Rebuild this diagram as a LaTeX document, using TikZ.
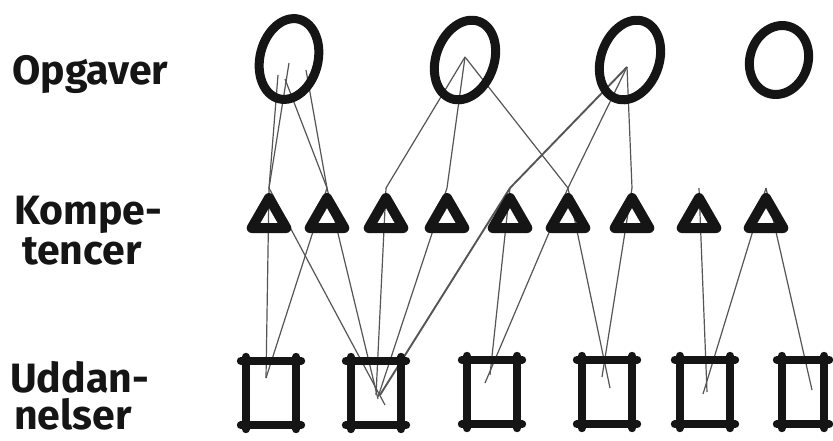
\documentclass[tikz,border=0pt]{standalone}
\usepackage{fontspec}
\setmainfont{Fira Sans}
\usetikzlibrary{shapes.geometric,calc,backgrounds}
\definecolor{ink}{HTML}{151515}
\definecolor{linkgray}{HTML}{555555}
\begin{document}
\begin{tikzpicture}[x=1pt,y=-1pt,
  opg/.style={draw=ink, ellipse, line width=9pt, minimum width=58pt, minimum height=82pt, inner sep=0pt},
  komp/.style={draw=ink, regular polygon, regular polygon sides=3, line width=10pt, line join=round, minimum size=40pt, inner sep=0pt},
  udd/.style={minimum width=50pt, minimum height=64pt, inner sep=0pt},
  sqside/.style={draw=ink, line width=8pt, line cap=round},
  link/.style={draw=linkgray, line width=1.2pt},
  linkthick/.style={draw=linkgray, line width=1.9pt},
  lbl/.style={font=\fontsize{41}{41}\selectfont\bfseries, text=ink, inner sep=0pt, anchor=base west}]
\useasboundingbox (0,0) rectangle (833,440);

% labels
\node[lbl] (lblO)  at (12,84)  {Opgaver};
\node[lbl] (lblK1) at (14,224) {Kompe-};
\node[lbl] (lblK2) at (22,264) {tencer};
\node[lbl] (lblU1) at (10,392) {Uddan-};
\node[lbl] (lblU2) at (14,429) {nelser};

% Opgaver
\node[opg, rotate=-14] (C1) at (289,59) {};
\node[opg, rotate=-20] (C2) at (465,60) {};
\node[opg, rotate=-20] (C3) at (630,60) {};
\node[opg, rotate=-18, minimum width=58pt, minimum height=70pt] (C4) at (779,60) {};

% Kompetencer
\foreach \n/\x in {1/269,2/327,3/386,4/447,5/510,6/568,7/632,8/699,9/766}
  \node[komp] (T\n) at (\x,218) {};

% Uddannelser
\node[udd] (S1) at (271,393) {};
\node[udd] (S2) at (376,393) {};
\node[udd] (S3) at (492,392) {};
\node[udd] (S4) at (607,392) {};
\node[udd] (S5) at (705,392) {};
\node[udd, minimum width=42pt] (S6) at (803,392) {};
\foreach \s in {S1,S2,S3,S4,S5,S6}{
  \draw[sqside] ($(\s.north west)+(-5,0)$) -- ($(\s.north east)+(5,0)$);
  \draw[sqside] ($(\s.south west)+(-5,0)$) -- ($(\s.south east)+(5,0)$);
  \draw[sqside] ($(\s.north west)+(0,-4)$) -- ($(\s.south west)+(0,4)$);
  \draw[sqside] ($(\s.north east)+(0,-4)$) -- ($(\s.south east)+(0,4)$);
}

\begin{scope}[on background layer]
  \fill[white] (0,0) rectangle (833,440);
  % Opgaver -> Kompetencer
  \draw[link] ($(C1.center)+(-11,16)$) -- (T1.corner 1);
  \draw[link] ($(C1.center)+(0,4)$) -- (T1.corner 1);
  \draw[link] ($(C1.center)+(-4,20)$) -- (T2.corner 1);
  \draw[link] ($(C1.center)+(17,11)$) -- (T2.corner 1);
  \draw[link] ($(C2.center)+(0,-3)$) -- (T3.corner 1);
  \draw[link] ($(C2.center)+(0,-3)$) -- (T4.corner 1);
  \draw[link] ($(C2.center)+(0,-3)$) -- (T6.corner 1);
  \draw[linkthick] ($(C3.center)+(-3,7)$) -- (T5.corner 1);
  \draw[link] ($(C3.center)+(-3,7)$) -- (T6.corner 1);
  \draw[link] ($(C3.center)+(-3,7)$) -- (T7.corner 1);
  % Kompetencer -> Uddannelser
  \draw[link] (T1.corner 1) -- ($(S1.center)+(-5,-15)$);
  \draw[link] (T2.corner 1) -- ($(S1.center)+(-5,-15)$);
  \draw[link] (T1.corner 1) -- ($(S2.center)+(9,12)$);
  \draw[link] (T2.corner 1) -- ($(S2.center)+(2,6)$);
  \draw[link] (T3.corner 1) -- ($(S2.center)+(0,2)$);
  \draw[link] (T4.corner 1) -- ($(S2.center)+(2,4)$);
  \draw[linkthick] (T5.corner 1) -- ($(S2.center)+(4,2)$);
  \draw[link] (T5.corner 1) -- ($(S3.center)+(-2,-17)$);
  \draw[link] (T6.corner 1) -- ($(S3.center)+(-7,-9)$);
  \draw[link] (T6.corner 1) -- ($(S4.center)+(3,-4)$);
  \draw[link] (T7.corner 1) -- ($(S4.center)+(-5,-15)$);
  \draw[link] (T8.corner 1) -- ($(S5.center)+(2,0)$);
  \draw[link] (T9.corner 1) -- ($(S5.center)+(-2,2)$);
  \draw[link] (T9.corner 1) -- ($(S6.center)+(9,-2)$);
\end{scope}
\end{tikzpicture}
\end{document}
